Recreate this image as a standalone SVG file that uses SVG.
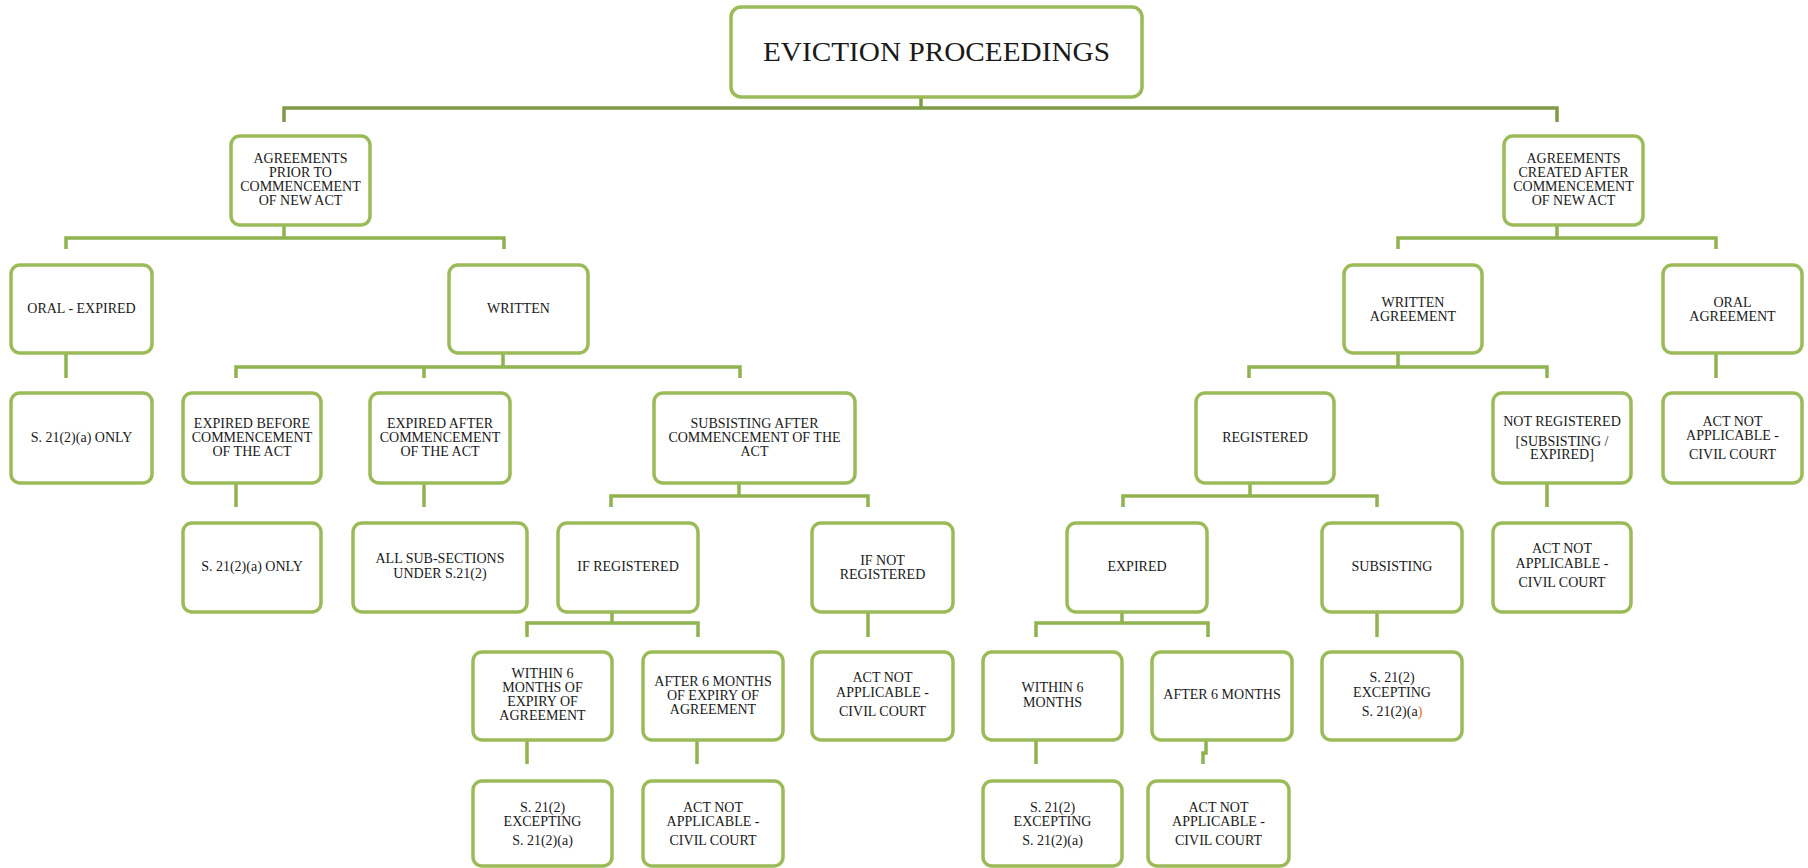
<svg xmlns="http://www.w3.org/2000/svg" width="1808" height="868" viewBox="0 0 1808 868">
<style>
.box{fill:#fff;stroke:#9bbb59;stroke-width:3.5}
.t{font-family:"Liberation Serif","Times New Roman",serif;font-size:14px;fill:#1a1a1a;text-anchor:middle}
.title{font-family:"Liberation Serif","Times New Roman",serif;font-size:28px;fill:#1a1a1a;text-anchor:middle}
.c{fill:none;stroke:#8fb34f;stroke-width:3.5}
.ctop{fill:none;stroke:#7e9c48;stroke-width:3.5}
</style>
<rect width="1808" height="868" fill="#fff"/>
<g id="connectors">
<path class="ctop" d="M921 97V108M284 122V108H1557V122"/>
<path class="c" d="M284 225V238M66 249V238H504V249"/>
<path class="c" d="M1557 225V238M1398 249V238H1716V249"/>
<path class="c" d="M66 353V378"/>
<path class="c" d="M503 353V367M236 378V367H740V378M424 367V378"/>
<path class="c" d="M1398 353V367M1249 378V367H1547V378"/>
<path class="c" d="M1716 353V378"/>
<path class="c" d="M236 483V507"/>
<path class="c" d="M424 483V507"/>
<path class="c" d="M739 483V496M611 507V496H868V507"/>
<path class="c" d="M1250 483V496M1123 507V496H1377V507"/>
<path class="c" d="M1547 483V507"/>
<path class="c" d="M612 612V623M527 637V623H698V637"/>
<path class="c" d="M868 612V637"/>
<path class="c" d="M1122 612V623M1036 637V623H1208V637"/>
<path class="c" d="M1377 612V637"/>
<path class="c" d="M527 740V764"/>
<path class="c" d="M697 740V764"/>
<path class="c" d="M1036 740V764"/>
<path class="c" d="M1206 740V753H1203V764"/>
</g>
<g id="title"><rect class="box" x="731" y="7" width="411" height="90" rx="10"/><text class="title" x="936.5" y="61" textLength="347" lengthAdjust="spacingAndGlyphs">EVICTION PROCEEDINGS</text></g>
<g id="n1"><rect class="box" x="231" y="136" width="139" height="89" rx="9"/><text class="t"><tspan x="300.5" y="163">AGREEMENTS</tspan><tspan x="300.5" y="177">PRIOR TO</tspan><tspan x="300.5" y="191">COMMENCEMENT</tspan><tspan x="300.5" y="205">OF NEW ACT</tspan></text></g>
<g id="n2"><rect class="box" x="1504" y="136" width="139" height="89" rx="9"/><text class="t"><tspan x="1573.5" y="163">AGREEMENTS</tspan><tspan x="1573.5" y="177">CREATED AFTER</tspan><tspan x="1573.5" y="191">COMMENCEMENT</tspan><tspan x="1573.5" y="205">OF NEW ACT</tspan></text></g>
<g id="n3"><rect class="box" x="11" y="265" width="141" height="88" rx="9"/><text class="t" x="81.5" y="313">ORAL - EXPIRED</text></g>
<g id="n4"><rect class="box" x="449" y="265" width="139" height="88" rx="9"/><text class="t" x="518.5" y="313">WRITTEN</text></g>
<g id="n5"><rect class="box" x="1344" y="265" width="138" height="88" rx="9"/><text class="t"><tspan x="1413" y="307">WRITTEN</tspan><tspan x="1413" y="321">AGREEMENT</tspan></text></g>
<g id="n6"><rect class="box" x="1663" y="265" width="139" height="88" rx="9"/><text class="t"><tspan x="1732.5" y="307">ORAL</tspan><tspan x="1732.5" y="321">AGREEMENT</tspan></text></g>
<g id="n7"><rect class="box" x="11" y="393" width="141" height="90" rx="9"/><text class="t" x="81.5" y="442">S. 21(2)(a) ONLY</text></g>
<g id="n8"><rect class="box" x="183" y="393" width="138" height="90" rx="9"/><text class="t"><tspan x="252" y="428">EXPIRED BEFORE</tspan><tspan x="252" y="442">COMMENCEMENT</tspan><tspan x="252" y="456">OF THE ACT</tspan></text></g>
<g id="n9"><rect class="box" x="370" y="393" width="140" height="90" rx="9"/><text class="t"><tspan x="440" y="428">EXPIRED AFTER</tspan><tspan x="440" y="442">COMMENCEMENT</tspan><tspan x="440" y="456">OF THE ACT</tspan></text></g>
<g id="n10"><rect class="box" x="654" y="393" width="201" height="90" rx="9"/><text class="t"><tspan x="754.5" y="428">SUBSISTING AFTER</tspan><tspan x="754.5" y="442">COMMENCEMENT OF THE</tspan><tspan x="754.5" y="456">ACT</tspan></text></g>
<g id="n11"><rect class="box" x="1196" y="393" width="138" height="90" rx="9"/><text class="t" x="1265" y="442">REGISTERED</text></g>
<g id="n12"><rect class="box" x="1493" y="393" width="138" height="90" rx="9"/><text class="t"><tspan x="1562" y="426">NOT REGISTERED</tspan><tspan x="1562" y="446">[SUBSISTING /</tspan><tspan x="1562" y="459">EXPIRED]</tspan></text></g>
<g id="n13"><rect class="box" x="1663" y="393" width="139" height="90" rx="9"/><text class="t"><tspan x="1732.5" y="426">ACT NOT</tspan><tspan x="1732.5" y="440">APPLICABLE -</tspan><tspan x="1732.5" y="459">CIVIL COURT</tspan></text></g>
<g id="n14"><rect class="box" x="183" y="523" width="138" height="89" rx="9"/><text class="t" x="252" y="571">S. 21(2)(a) ONLY</text></g>
<g id="n15"><rect class="box" x="353" y="523" width="174" height="89" rx="9"/><text class="t"><tspan x="440" y="563">ALL SUB-SECTIONS</tspan><tspan x="440" y="578">UNDER S.21(2)</tspan></text></g>
<g id="n16"><rect class="box" x="558" y="523" width="140" height="89" rx="9"/><text class="t" x="628" y="571">IF REGISTERED</text></g>
<g id="n17"><rect class="box" x="812" y="523" width="141" height="89" rx="9"/><text class="t"><tspan x="882.5" y="565">IF NOT</tspan><tspan x="882.5" y="579">REGISTERED</tspan></text></g>
<g id="n18"><rect class="box" x="1067" y="523" width="140" height="89" rx="9"/><text class="t" x="1137" y="571">EXPIRED</text></g>
<g id="n19"><rect class="box" x="1322" y="523" width="140" height="89" rx="9"/><text class="t" x="1392" y="571">SUBSISTING</text></g>
<g id="n20"><rect class="box" x="1493" y="523" width="138" height="89" rx="9"/><text class="t"><tspan x="1562" y="553">ACT NOT</tspan><tspan x="1562" y="568">APPLICABLE -</tspan><tspan x="1562" y="587">CIVIL COURT</tspan></text></g>
<g id="n21"><rect class="box" x="473" y="652" width="139" height="88" rx="9"/><text class="t"><tspan x="542.5" y="678">WITHIN 6</tspan><tspan x="542.5" y="692">MONTHS OF</tspan><tspan x="542.5" y="706">EXPIRY OF</tspan><tspan x="542.5" y="720">AGREEMENT</tspan></text></g>
<g id="n22"><rect class="box" x="643" y="652" width="140" height="88" rx="9"/><text class="t"><tspan x="713" y="686">AFTER 6 MONTHS</tspan><tspan x="713" y="700">OF EXPIRY OF</tspan><tspan x="713" y="714">AGREEMENT</tspan></text></g>
<g id="n23"><rect class="box" x="812" y="652" width="141" height="88" rx="9"/><text class="t"><tspan x="882.5" y="682">ACT NOT</tspan><tspan x="882.5" y="697">APPLICABLE -</tspan><tspan x="882.5" y="716">CIVIL COURT</tspan></text></g>
<g id="n24"><rect class="box" x="983" y="652" width="139" height="88" rx="9"/><text class="t"><tspan x="1052.5" y="692">WITHIN 6</tspan><tspan x="1052.5" y="707">MONTHS</tspan></text></g>
<g id="n25"><rect class="box" x="1152" y="652" width="140" height="88" rx="9"/><text class="t" x="1222" y="699">AFTER 6 MONTHS</text></g>
<g id="n26"><rect class="box" x="1322" y="652" width="140" height="88" rx="9"/><text class="t"><tspan x="1392" y="682">S. 21(2)</tspan><tspan x="1392" y="697">EXCEPTING</tspan><tspan x="1392" y="716">S. 21(2)(a<tspan fill="#e46c0a">)</tspan></tspan></text></g>
<g id="n27"><rect class="box" x="473" y="781" width="139" height="85" rx="9"/><text class="t"><tspan x="542.5" y="812">S. 21(2)</tspan><tspan x="542.5" y="826">EXCEPTING</tspan><tspan x="542.5" y="845">S. 21(2)(a)</tspan></text></g>
<g id="n28"><rect class="box" x="643" y="781" width="140" height="85" rx="9"/><text class="t"><tspan x="713" y="812">ACT NOT</tspan><tspan x="713" y="826">APPLICABLE -</tspan><tspan x="713" y="845">CIVIL COURT</tspan></text></g>
<g id="n29"><rect class="box" x="983" y="781" width="139" height="85" rx="9"/><text class="t"><tspan x="1052.5" y="812">S. 21(2)</tspan><tspan x="1052.5" y="826">EXCEPTING</tspan><tspan x="1052.5" y="845">S. 21(2)(a)</tspan></text></g>
<g id="n30"><rect class="box" x="1148" y="781" width="141" height="85" rx="9"/><text class="t"><tspan x="1218.5" y="812">ACT NOT</tspan><tspan x="1218.5" y="826">APPLICABLE -</tspan><tspan x="1218.5" y="845">CIVIL COURT</tspan></text></g>
</svg>
